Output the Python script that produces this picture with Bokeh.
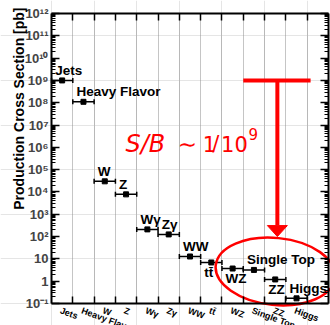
import numpy as np
from bokeh.plotting import figure
from bokeh.models import (FixedTicker, LogAxis, LinearAxis, Label, Grid,
                          ColumnDataSource, Range1d, CustomJSTickFormatter)
from bokeh.embed import file_html
from bokeh.resources import INLINE
from bokeh.core.properties import value

# ---------------- data ----------------
categories = ["Jets", "Heavy Flavor", "W", "Z", "Wγ", "Zγ", "WW", "tt̄",
              "WZ", "Single Top", "ZZ", "Higgs"]
cross_sections = [1.0e9, 1.1e8, 3.0e4, 7.8e3, 2.1e2, 1.25e2, 12.8, 6.9,
                  3.7, 3.2, 1.2, 0.17]
label_side = ["above", "above", "above", "above", "above", "above", "above",
              "below", "below", "above", "below", "above"]
n_bins = 13
y_ticks = [10.0 ** k for k in range(-1, 13)]
y_tick_labels = ["10⁻¹", "1", "10", "10²", "10³", "10⁴", "10⁵", "10⁶",
                 "10⁷", "10⁸", "10⁹", "10¹⁰", "10¹¹", "10¹²"]
y_minor = [m * 10.0 ** k for k in range(-1, 12) for m in range(2, 10)]

FONT = "Liberation Sans"
MATH = "DejaVu Sans"
RED = "#ff0000"

# ---------------- layout (canvas pixels) ----------------
W, H = 330, 325
AX_L, AX_R, AX_T, AX_B = 51.0, 328.0, 13.0, 303.0
y_lo, y_hi = y_ticks[0], y_ticks[-1]
bin_px = (AX_R - AX_L) / n_bins
dec_px = (AX_B - AX_T) / (np.log10(y_hi) - np.log10(y_lo))
x_start = -AX_L / bin_px
x_end = n_bins + (W - AX_R) / bin_px
y_start = 10 ** (np.log10(y_lo) - (H - AX_B) / dec_px)
y_end = 10 ** (np.log10(y_hi) + AX_T / dec_px)

n = len(categories)
lefts = list(range(n))
rights = [i + 1 for i in range(n)]
centers = [i + 0.5 for i in range(n)]
edges = list(range(1, n_bins))

p = figure(width=W, height=H, y_axis_type="log",
           x_axis_location=None, y_axis_location=None,
           x_range=Range1d(x_start, x_end), y_range=Range1d(y_start, y_end),
           output_backend="svg", toolbar_location=None,
           min_border_left=0, min_border_right=0, min_border_top=0,
           min_border_bottom=0)
p.outline_line_color = None
p.background_fill_color = "white"
p.border_fill_color = "white"

blank = CustomJSTickFormatter(code="return ''")

# dotted verticals at bin edges
try:
    g = Grid(dimension=0, ticker=FixedTicker(ticks=edges), cross_bounds=(y_lo, y_hi),
             grid_line_color="#8a8a8a", grid_line_dash="1 1", grid_line_width=1)
    p.add_layout(g)
except Exception:
    p.segment(x0=edges, y0=[y_lo] * len(edges), x1=edges, y1=[y_hi] * len(edges),
              line_color="#8a8a8a", line_dash="1 1", line_width=1)

common = dict(axis_line_width=2, major_tick_line_width=1.5, minor_tick_line_width=1,
              major_tick_out=0, minor_tick_out=0)

# bottom / top axes (ticks at bin edges)
xb = LinearAxis(fixed_location=y_lo, bounds=(0, n_bins),
                ticker=FixedTicker(ticks=edges), formatter=blank,
                major_tick_in=7, major_label_standoff=0, **common)
p.add_layout(xb, "below")
xt = LinearAxis(fixed_location=y_hi, bounds=(0, n_bins),
                ticker=FixedTicker(ticks=edges), formatter=blank,
                major_tick_in=7, major_label_standoff=0, **common)
p.add_layout(xt, "above")

# left axis with decade labels
yl = LogAxis(fixed_location=0, bounds=(y_lo, y_hi),
             ticker=FixedTicker(ticks=y_ticks, minor_ticks=y_minor),
             major_label_overrides={t: s for t, s in zip(y_ticks, y_tick_labels)},
             major_label_text_font=FONT, major_label_text_font_style="bold",
             major_label_text_font_size="13px", major_label_standoff=3,
             major_tick_in=8, minor_tick_in=4, **common)
p.add_layout(yl, "left")
# right axis, ticks only
yr = LogAxis(fixed_location=n_bins, bounds=(y_lo, y_hi),
             ticker=FixedTicker(ticks=y_ticks, minor_ticks=y_minor),
             formatter=blank, major_label_standoff=0,
             major_tick_in=8, minor_tick_in=4, **common)
p.add_layout(yr, "right")

# ---------------- data marks ----------------
src = ColumnDataSource(dict(
    x=centers, left=lefts, right=rights, y=cross_sections, name=categories,
    dy=[-10 if s == "above" else 10 for s in label_side],
))
p.segment(x0="left", y0="y", x1="right", y1="y", source=src,
          line_color="black", line_width=1.5)
p.scatter(x="left", y="y", source=src, marker="dash", angle=np.pi / 2, size=5,
          line_color="black", line_width=1.5)
p.scatter(x="right", y="y", source=src, marker="dash", angle=np.pi / 2, size=5,
          line_color="black", line_width=1.5)
p.scatter(x="x", y="y", source=src, marker="square", size=5, color="black")
p.text(x="x", y="y", text="name", source=src, x_offset=-7, y_offset="dy",
       text_font=value(FONT), text_font_style="bold", text_font_size="13.5px",
       text_align="left", text_baseline="middle", text_color="black")

# category tick labels, rotated under the axis
tick_src = ColumnDataSource(dict(x=centers, name=categories))
p.text(x="x", y=y_lo, text="name", source=tick_src, x_offset=0, y_offset=2,
       angle=-0.35, text_align="left", text_baseline="top",
       text_font=value(FONT), text_font_size="9px", text_font_style="bold",
       text_color="black")

# y axis title
p.add_layout(Label(x=18, y=H - 7, x_units="screen", y_units="screen",
                   text="Production Cross Section [pb]", angle=np.pi / 2,
                   text_align="right", text_baseline="alphabetic",
                   text_font=FONT, text_font_style="bold", text_font_size="14px",
                   text_color="black"))

# ---------------- red S/B annotation ----------------
t_y = cross_sections[0]
arrow_x = 10.6
arrow_tip = 1.0e2
head_base = arrow_tip * 10 ** (11 / dec_px)
head_half = 10 / bin_px
p.segment(x0=[9.0], y0=[t_y], x1=[12.16], y1=[t_y], line_color=RED, line_width=4)
p.segment(x0=[arrow_x], y0=[t_y], x1=[arrow_x], y1=[head_base * 1.05],
          line_color=RED, line_width=4)
p.patch(x=[arrow_x - head_half, arrow_x + head_half, arrow_x],
        y=[head_base, head_base, arrow_tip], color=RED)
p.ellipse(x=[10.51], y=[2.73], width=120, height=67, width_units="screen",
          height_units="screen", angle=-0.1, fill_color=None, line_color=RED,
          line_width=2.5)

text_base = 10 ** 6.17
for tx, txt, style, size, ty in [
        (3.47, "S/B", "italic", "24px", text_base),
        (5.93, "∼", "normal", "23px", text_base),
        (7.10, "1", "normal", "21px", text_base),
        (7.55, "/", "normal", "21px", text_base),
        (7.96, "10", "normal", "21px", text_base),
        (9.25, "9", "normal", "15px", 10 ** 6.62)]:
    p.add_layout(Label(x=tx, y=ty, text=txt, text_font=MATH, text_font_style=style,
                       text_font_size=size, text_color=RED,
                       text_baseline="alphabetic"))

open("out.html", "w").write(file_html(p, INLINE))
